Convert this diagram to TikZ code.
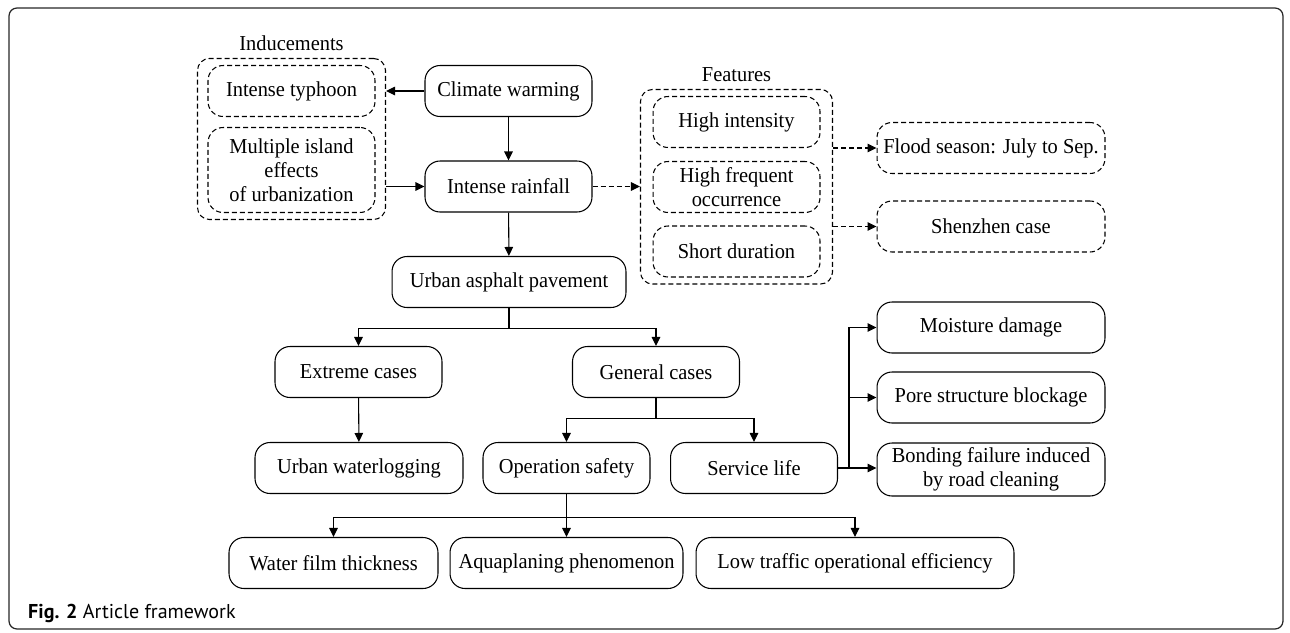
\documentclass[tikz,border=0pt]{standalone}
\usepackage{fontspec}
\setmainfont{Liberation Serif}[FakeStretch=0.96]
\newfontfamily\capfont{PT Sans}
\usetikzlibrary{arrows.meta, fit, positioning}

\tikzset{
  box/.style={draw, rounded corners=0.3cm, line width=0.6pt, minimum height=1.02cm,
    minimum width=3.34cm, align=center, inner sep=2pt, font=\fontsize{12.1}{13.8}\selectfont},
  dbox/.style={box, dash pattern=on 0.1cm off 0.06cm},
  grp/.style={draw, rounded corners=0.24cm, line width=0.6pt, dash pattern=on 0.1cm off 0.06cm},
  arr/.style={-{Triangle[length=1.8mm, width=1.7mm]}, line width=0.6pt},
  darr/.style={arr, dash pattern=on 0.1cm off 0.06cm},
}

\begin{document}
\begin{tikzpicture}[x=0.02cm, y=-0.02cm]
\useasboundingbox (0,0) rectangle (1290,632);
\draw[rounded corners=0.16cm, line width=0.7pt, black!85] (9,8) rectangle (1283,629);

% inducements
\node[dbox] (typhoon) at (291.5,91) {Intense typhoon};
\node[dbox, minimum height=1.7cm] (multi) at (291.5,170) {Multiple island\\effects\\of urbanization};
\node[grp, fit=(typhoon)(multi), inner xsep=0.2cm, inner ysep=0.13cm] (ind) {};
\node[above=0.02cm of ind, font=\fontsize{12.1}{13.8}\selectfont] (indlbl) {Inducements};

\node[box] (climate) at (508.5,91) {Climate warming};
\node[box] (rain) at (508.5,186.5) {Intense rainfall};
\node[box, minimum width=4.68cm] (pave) at (509,282) {Urban asphalt pavement};

% features
\node[dbox] (high) at (736.5,122) {High intensity};
\node[dbox] (freq) at (736.5,187) {High frequent\\occurrence};
\node[dbox] (short) at (736.5,251.5) {Short duration};
\node[grp, fit=(high)(short), inner xsep=0.24cm, inner ysep=0.13cm] (feat) {};
\node[above=0.02cm of feat, font=\fontsize{12.1}{13.8}\selectfont] (featlbl) {Features};

\node[dbox, minimum width=4.56cm] (flood) at (991,148) {Flood season: July to Sep.};
\node[dbox, minimum width=4.56cm] (shenzhen) at (991,226.5) {Shenzhen case};

\node[box] (extreme) at (358.5,372) {Extreme cases};
\node[box] (general) at (656,372) {General cases};
\node[box, minimum width=4.16cm] (waterlog) at (359,468) {Urban waterlogging};
\node[box] (op) at (566.5,468) {Operation safety};
\node[box] (service) at (754,468) {Service life};

\node[box, minimum width=4.56cm] (moist) at (991,327.5) {Moisture damage};
\node[box, minimum width=4.56cm] (pore) at (991,397.5) {Pore structure blockage};
\node[box, minimum width=4.56cm, minimum height=1.06cm] (bond) at (991,469.5) {Bonding failure induced\\by road cleaning};

\node[box, minimum width=4.18cm] (water) at (333.5,563) {Water film thickness};
\node[box, minimum width=4.66cm] (aqua) at (566.5,563) {Aquaplaning phenomenon};
\node[box, minimum width=6.36cm] (low) at (855,563) {Low traffic operational efficiency};

% connectors
\draw[arr] (climate.west) -- (climate.west -| ind.east);
\draw[arr] (rain.west -| ind.east) -- (rain.west);
\draw[arr] (climate) -- (rain);
\draw[darr] (rain.east) -- (rain.east -| feat.west);
\draw[darr] (flood.west -| feat.east) -- (flood.west);
\draw[darr] (shenzhen.west -| feat.east) -- (shenzhen.west);
\draw[arr] (rain) -- (pave);

\foreach \n in {extreme,general}
  \draw[arr] (pave.south) -- ++(0,20) -| (\n.north);
\draw[arr] (extreme) -- (waterlog);
\foreach \n in {op,service}
  \draw[arr] (general.south) -- ++(0,20) -| (\n.north);

\draw[arr] (service.east) -- (service.east -| bond.west);
\foreach \n in {moist,pore}
  \draw[arr] (service.east) -- ++(11,0) |- (\n.west);

\foreach \n in {water,aqua,low}
  \draw[arr] (op.south) -- ++(0,23) -| (\n.north);

\node[anchor=west, font=\capfont\fontsize{11.4}{13}\selectfont] (cap) at (22,613) {\textbf{Fig. 2} Article framework};
\end{tikzpicture}
\end{document}
